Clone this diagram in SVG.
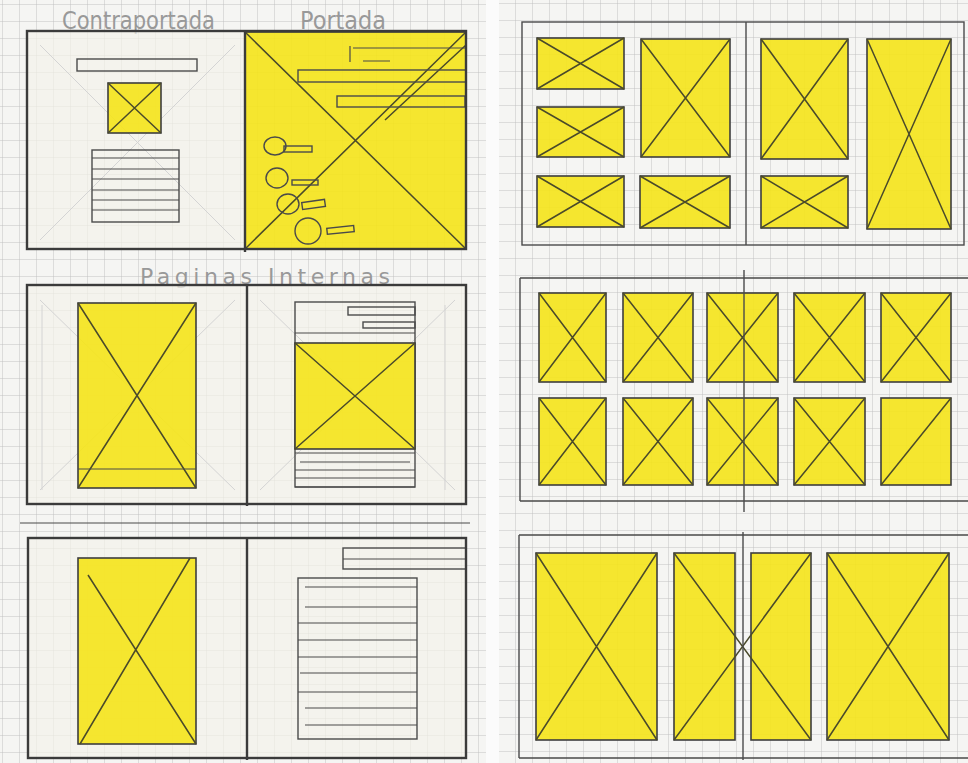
<svg xmlns="http://www.w3.org/2000/svg" width="968" height="763" viewBox="0 0 968 763">
<defs>
<pattern id="grid" width="17" height="17" patternUnits="userSpaceOnUse" x="3" y="5">
<path d="M17 0V17M0 17H17" fill="none" stroke="#c2c2c2" stroke-width="1"/>
</pattern>
<pattern id="grid2" width="17" height="17" patternUnits="userSpaceOnUse" x="6" y="4">
<path d="M17 0V17M0 17H17" fill="none" stroke="#c2c2c2" stroke-width="1"/>
</pattern>
</defs>
<style>
.frame{fill:none;stroke:#3b3b3b;stroke-width:2.4}
.thin{fill:none;stroke:#4a4a4a;stroke-width:1.4}
.ln{stroke:#4a4a4a;stroke-width:1.2;fill:none}
.yel{fill:#f5e41a;fill-opacity:0.9;stroke:#3e3e3e;stroke-width:1.6}
.x{stroke:#4a4a2a;stroke-width:1.5;fill:none}
.guide{stroke:#d4d4d4;stroke-width:1;fill:none}
.page{fill:#f4f2ea;fill-opacity:0.7}
.ttl{font-family:"DejaVu Sans",sans-serif;fill:#999999;font-weight:normal}
</style>
<rect x="0" y="0" width="968" height="763" fill="#f5f5f3"/>
<rect x="0" y="0" width="486" height="763" fill="url(#grid)"/>
<rect x="499" y="0" width="469" height="763" fill="url(#grid2)"/>
<rect x="486" y="0" width="13" height="763" fill="#fbfbfb"/>

<g id="spread-portada">
<text class="ttl" x="62" y="29" font-size="24" textLength="153" lengthAdjust="spacingAndGlyphs">Contraportada</text>
<text class="ttl" x="300" y="29" font-size="24" textLength="86" lengthAdjust="spacingAndGlyphs">Portada</text>
<rect class="page" x="28" y="32" width="217" height="217"/>
<path class="guide" d="M40 45L235 240M235 45L40 240"/>
<rect class="thin" x="77" y="59" width="120" height="12"/>
<rect class="yel" x="108" y="83" width="53" height="50"/>
<path class="x" d="M108 83L161 133M161 83L108 133"/>
<rect class="thin" x="92" y="150" width="87" height="72"/>
<path class="ln" d="M92 158H179M92 169H179M92 179H179M92 190H179M92 200H179M92 210H179"/>
<rect class="yel" x="245" y="32" width="221" height="217" stroke="none"/>
<path class="x" d="M245 32L466 249M466 32L245 249M466 45L385 120"/>
<path class="ln" d="M350 46V62M353 48H466M363 61H390"/>
<rect class="thin" x="298" y="70" width="168" height="12"/>
<rect class="thin" x="337" y="96" width="128" height="11"/>
<ellipse class="thin" cx="275" cy="146" rx="11" ry="9"/>
<rect class="thin" x="284" y="146" width="28" height="6"/>
<ellipse class="thin" cx="277" cy="178" rx="11" ry="10"/>
<rect class="thin" x="292" y="180" width="26" height="5"/>
<ellipse class="thin" cx="288" cy="204" rx="11" ry="10"/>
<rect class="thin" x="302" y="201" width="23" height="7" transform="rotate(-8 313 204)"/>
<ellipse class="thin" cx="308" cy="231" rx="13" ry="13"/>
<rect class="thin" x="327" y="227" width="27" height="6" transform="rotate(-6 340 230)"/>
<rect class="frame" x="27" y="31" width="439" height="218"/>
<path class="frame" d="M245 31V252"/>
</g>

<g id="spread-internas-1">
<text class="ttl" x="140" y="284" font-size="22" textLength="250" lengthAdjust="spacing">Paginas Internas</text>
<rect class="page" x="27" y="285" width="220" height="219"/>
<rect class="page" x="247" y="285" width="219" height="219"/>
<path class="guide" d="M40 300L235 490M235 300L40 490M260 300L455 490M455 300L260 490M42 305V490M445 305V490"/>
<rect class="yel" x="78" y="303" width="118" height="185"/>
<path class="x" d="M78 303L196 488M196 303L78 488"/>
<path class="ln" d="M78 469H196"/>
<rect class="thin" x="295" y="302" width="120" height="185" stroke="#6a6a6a"/>
<rect class="thin" x="348" y="307" width="67" height="8"/>
<rect class="thin" x="363" y="322" width="52" height="6"/>
<path class="ln" d="M295 333H415"/>
<rect class="yel" x="295" y="343" width="120" height="106"/>
<path class="x" d="M295 343L415 449M415 343L295 449"/>
<path class="ln" d="M295 453H415M300 462H410M295 470H415M295 478H415M295 487H415"/>
<rect class="frame" x="27" y="285" width="439" height="219"/>
<path class="frame" d="M247 285V506"/>
</g>

<g id="spread-internas-2">
<path class="ln" d="M20 523H470" stroke="#999" stroke-width="1"/>
<rect class="page" x="28" y="538" width="438" height="220"/>
<rect class="yel" x="78" y="558" width="118" height="186" stroke-width="1.2"/>
<path class="x" d="M88 575L196 744M190 558L80 744" stroke-width="1"/>
<rect class="thin" x="343" y="548" width="123" height="21"/>
<path class="ln" d="M343 559H466"/>
<rect class="thin" x="298" y="578" width="119" height="161"/>
<path class="ln" d="M305 587H417M305 607H417M298 623H417M298 640H417M298 657H417M300 673H417M298 692H417M305 708H417M305 725H417"/>
<rect class="frame" x="28" y="538" width="438" height="220"/>
<path class="frame" d="M247 538V760"/>
</g>

<g id="spread-galeria-1">
<rect class="yel" x="537" y="38" width="87" height="51"/>
<path class="x" d="M537 38L624 89M624 38L537 89"/>
<rect class="yel" x="537" y="107" width="87" height="50"/>
<path class="x" d="M537 107L624 157M624 107L537 157"/>
<rect class="yel" x="537" y="176" width="87" height="51"/>
<path class="x" d="M537 176L624 227M624 176L537 227"/>
<rect class="yel" x="641" y="39" width="89" height="118"/>
<path class="x" d="M641 39L730 157M730 39L641 157"/>
<rect class="yel" x="640" y="176" width="90" height="52"/>
<path class="x" d="M640 176L730 228M730 176L640 228"/>
<rect class="yel" x="761" y="39" width="87" height="120"/>
<path class="x" d="M761 39L848 159M848 39L761 159"/>
<rect class="yel" x="761" y="176" width="87" height="52"/>
<path class="x" d="M761 176L848 228M848 176L761 228"/>
<rect class="yel" x="867" y="39" width="84" height="190"/>
<path class="x" d="M867 39L951 229M951 39L867 229"/>
<rect class="thin" x="522" y="22" width="442" height="223" stroke-width="1.6"/>
<path class="thin" d="M746 22V245" stroke-width="1.6"/>
</g>

<g id="spread-galeria-2">
<rect class="yel" x="539" y="293" width="67" height="89"/>
<path class="x" d="M539 293L606 382M606 293L539 382"/>
<rect class="yel" x="623" y="293" width="70" height="89"/>
<path class="x" d="M623 293L693 382M693 293L623 382"/>
<rect class="yel" x="707" y="293" width="71" height="89"/>
<path class="x" d="M707 293L778 382M778 293L707 382"/>
<rect class="yel" x="794" y="293" width="71" height="89"/>
<path class="x" d="M794 293L865 382M865 293L794 382"/>
<rect class="yel" x="881" y="293" width="70" height="89"/>
<path class="x" d="M881 293L951 382M951 293L881 382"/>
<rect class="yel" x="539" y="398" width="67" height="87"/>
<path class="x" d="M539 398L606 485M606 398L539 485"/>
<rect class="yel" x="623" y="398" width="70" height="87"/>
<path class="x" d="M623 398L693 485M693 398L623 485"/>
<rect class="yel" x="707" y="398" width="71" height="87"/>
<path class="x" d="M707 398L778 485M778 398L707 485"/>
<rect class="yel" x="794" y="398" width="71" height="87"/>
<path class="x" d="M794 398L865 485M865 398L794 485"/>
<rect class="yel" x="881" y="398" width="70" height="87"/>
<path class="x" d="M951 398L881 485"/>
<path class="thin" d="M520 278H968M520 501H968M520 278V501" stroke-width="1.6"/>
<path class="thin" d="M744 270V512" stroke-width="1.6"/>
</g>

<g id="spread-galeria-3">
<rect class="yel" x="536" y="553" width="121" height="187"/>
<path class="x" d="M536 553L657 740M657 553L536 740" stroke-width="1.2"/>
<rect class="yel" x="674" y="553" width="61" height="187"/>
<rect class="yel" x="751" y="553" width="60" height="187"/>
<path class="x" d="M674 553L811 740M811 553L674 740" stroke-width="1.2"/>
<rect class="yel" x="827" y="553" width="122" height="187"/>
<path class="x" d="M827 553L949 740M949 553L827 740" stroke-width="1.2"/>
<path class="thin" d="M519 535H968M519 758H968M519 535V758" stroke-width="1.6"/>
<path class="thin" d="M743 532V760" stroke-width="2"/>
</g>
</svg>
